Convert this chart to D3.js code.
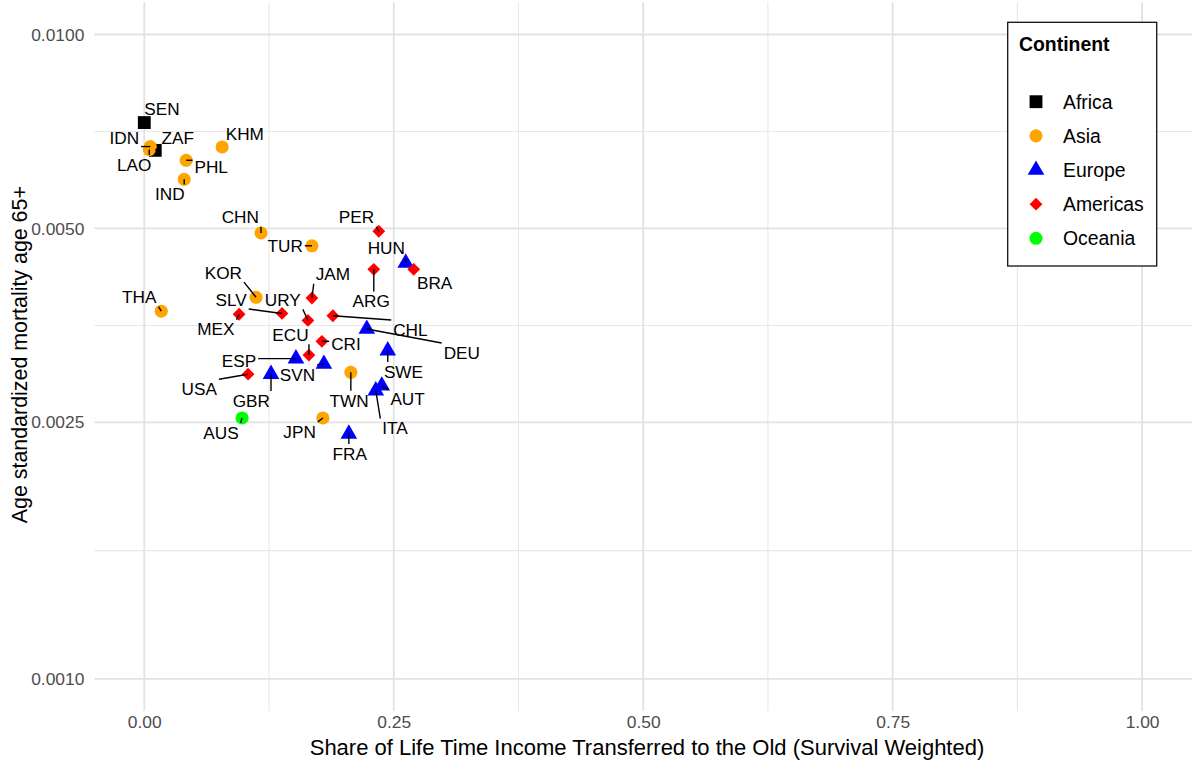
<!DOCTYPE html>
<html>
<head>
<meta charset="utf-8">
<script src="https://cdn.jsdelivr.net/npm/d3@7"></script>
<style>
  html, body { margin: 0; padding: 0; background: #ffffff; }
  svg { display: block; font-family: "Liberation Sans", Arial, Helvetica, sans-serif; }
</style>
</head>
<body>
<svg id="chart" width="1192" height="767"></svg>
<script>
// Country codes, continent, share of lifetime income transferred to the old,
// and age-standardized mortality (65+).
const countries = ["SEN","ZAF","IDN","LAO","KHM","PHL","IND","CHN","TUR","PER",
  "HUN","BRA","ARG","JAM","KOR","THA","SLV","URY","MEX","CHL",
  "DEU","CRI","ECU","ESP","SVN","SWE","USA","GBR","TWN","AUT",
  "ITA","AUS","JPN","FRA"];
const continentOf = ["Africa","Africa","Asia","Asia","Asia","Asia","Asia","Asia","Asia","Americas",
  "Europe","Americas","Americas","Americas","Asia","Asia","Americas","Americas","Americas","Americas",
  "Europe","Americas","Americas","Europe","Europe","Europe","Americas","Europe","Asia","Europe",
  "Europe","Oceania","Asia","Europe"];
const shareOld = [0.000,0.011,0.006,0.005,0.078,0.042,0.040,0.117,0.168,0.235,
  0.262,0.270,0.230,0.168,0.112,0.017,0.138,0.164,0.095,0.189,
  0.223,0.178,0.165,0.152,0.180,0.244,0.104,0.127,0.207,0.238,
  0.232,0.098,0.179,0.205];
const mortality = [0.00730,0.00661,0.00670,0.00663,0.00669,0.00638,0.00596,0.00492,0.00470,0.00495,
  0.00442,0.00432,0.00432,0.00390,0.00391,0.00372,0.00369,0.00360,0.00368,0.00366,
  0.00349,0.00334,0.00318,0.00314,0.00308,0.00323,0.00297,0.00297,0.00299,0.00285,
  0.00280,0.00254,0.00254,0.00240];

const continentNames = ["Africa","Asia","Europe","Americas","Oceania"];
const continentColors = ["#000000","#FFA500","#0000FF","#FF0000","#00FF00"];
const continentShapes = ["square","circle","triangle","diamond","circle"];

const xBreaks = [0, 0.25, 0.5, 0.75, 1];
const xTickLabels = ["0.00","0.25","0.50","0.75","1.00"];
const yBreaks = [0.001, 0.0025, 0.005, 0.01];
const yTickLabels = ["0.0010","0.0025","0.0050","0.0100"];

const xTitle = "Share of Life Time Income Transferred to the Old (Survival Weighted)";
const yTitle = "Age standardized mortality age 65+";
const legendTitle = "Continent";

// Label placement (pixel offsets of each label from its point)
const labelOffsets = {
  SEN:[17.7,-13.3], ZAF:[22.5,-12.5], IDN:[-26,-9], LAO:[-15,15], KHM:[22.7,-12.7],
  PHL:[25,6.7], IND:[-14.3,14.7], CHN:[-20.7,-15.7], TUR:[-26.7,0.3], PER:[-22.3,-14],
  HUN:[-19.4,-14.8], BRA:[20.9,13.4], ARG:[-2.6,31.7], JAM:[21,-23.7], KOR:[-32.7,-24.6],
  THA:[-22,-14], SLV:[-50.9,-14], URY:[-25.1,-20.7], MEX:[-23.2,15], CHL:[77.5,13.7],
  DEU:[95,23.4], CRI:[24.1,2.3], ECU:[-18.5,-20.3], ESP:[-57,2.4], SVN:[-26.5,10.4],
  SWE:[15.7,20.8], USA:[-48.8,14.5], GBR:[-19.7,26.4], TWN:[-1.8,28], AUT:[25.8,13.4],
  ITA:[19.3,37.4], AUS:[-21.1,14.4], JPN:[-23.3,13.4], FRA:[0.9,19.7]
};

const data = countries.map((c, i) => ({
  code: c, continent: continentOf[i], x: shareOld[i], y: mortality[i]
}));

const svg = d3.select("#chart");
const panel = { left: 94.4, right: 1192, top: 2.3, bottom: 711 };

// scales with 5% expansion (log space for y)
const xLim = [0, 1];
const xPad = (xLim[1] - xLim[0]) * 0.05;
const x = d3.scaleLinear().domain([xLim[0] - xPad, xLim[1] + xPad]).range([panel.left, panel.right]);
const yLim = [0.001, 0.01];
const lp = (Math.log10(yLim[1]) - Math.log10(yLim[0])) * 0.05;
const y = d3.scaleLog()
  .domain([Math.pow(10, Math.log10(yLim[0]) - lp), Math.pow(10, Math.log10(yLim[1]) + lp)])
  .range([panel.bottom, panel.top]);

const colorScale = d3.scaleOrdinal().domain(continentNames).range(continentColors);
const shapeScale = d3.scaleOrdinal().domain(continentNames).range(continentShapes);

// minor breaks: midpoints between major breaks (in transformed space)
const xMinor = d3.range(xBreaks.length - 1).map(i => (xBreaks[i] + xBreaks[i + 1]) / 2);
const yMinor = d3.range(yBreaks.length - 1).map(i => Math.sqrt(yBreaks[i] * yBreaks[i + 1]));

const grid = svg.append("g");
grid.selectAll(".xmin").data(xMinor).join("line")
  .attr("x1", d => x(d)).attr("x2", d => x(d))
  .attr("y1", panel.top).attr("y2", panel.bottom)
  .attr("stroke", "#e8e8e8").attr("stroke-width", 1.1);
grid.selectAll(".ymin").data(yMinor).join("line")
  .attr("y1", d => y(d)).attr("y2", d => y(d))
  .attr("x1", panel.left).attr("x2", panel.right)
  .attr("stroke", "#e8e8e8").attr("stroke-width", 1.1);
grid.selectAll(".xmaj").data(xBreaks).join("line")
  .attr("x1", d => x(d)).attr("x2", d => x(d))
  .attr("y1", panel.top).attr("y2", panel.bottom)
  .attr("stroke", "#e2e2e2").attr("stroke-width", 1.8);
grid.selectAll(".ymaj").data(yBreaks).join("line")
  .attr("y1", d => y(d)).attr("y2", d => y(d))
  .attr("x1", panel.left).attr("x2", panel.right)
  .attr("stroke", "#e2e2e2").attr("stroke-width", 1.8);

// axes (labels only, no lines or ticks)
const xAxis = svg.append("g").attr("transform", `translate(0,${panel.bottom})`)
  .call(d3.axisBottom(x).tickValues(xBreaks).tickFormat((d, i) => xTickLabels[i]).tickSize(0).tickPadding(5));
const yAxis = svg.append("g").attr("transform", `translate(${panel.left},0)`)
  .call(d3.axisLeft(y).tickValues(yBreaks).tickFormat((d, i) => yTickLabels[i]).tickSize(0).tickPadding(10));
[xAxis, yAxis].forEach(a => {
  a.select(".domain").remove();
  a.selectAll("text").attr("fill", "#4d4d4d").attr("font-size", "17.4px")
    .attr("font-family", "Liberation Sans, Arial, sans-serif");
});

svg.append("text").attr("x", 647).attr("y", 755)
  .attr("text-anchor", "middle").attr("font-size", "22px").attr("fill", "#000").text(xTitle);
svg.append("text").attr("transform", `translate(26.5,${(panel.top + panel.bottom) / 2 - 2}) rotate(-90)`)
  .attr("text-anchor", "middle").attr("font-size", "21.4px").attr("fill", "#000").text(yTitle);

// marker path generator
function markerPath(shape) {
  if (shape === "square") return d3.symbol(d3.symbolSquare, 165)();
  if (shape === "circle") return d3.symbol(d3.symbolCircle, 135)();
  if (shape === "triangle") return d3.symbol(d3.symbolTriangle, 120)();
  // diamond: square rotated 45 degrees
  const h = 6.4;
  return `M0,${-h}L${h},0L0,${h}L${-h},0Z`;
}

const pts = svg.append("g");
pts.selectAll("path").data(data).join("path")
  .attr("transform", d => `translate(${x(d.x)},${y(d.y)})`)
  .attr("d", d => markerPath(shapeScale(d.continent)))
  .attr("fill", d => colorScale(d.continent));

// labels with leader segments
const segG = svg.append("g");
const labG = svg.append("g");
data.forEach(d => {
  const px = x(d.x), py = y(d.y);
  const off = labelOffsets[d.code];
  const lx = px + off[0], ly = py + off[1];
  const t = labG.append("text").attr("x", lx).attr("y", ly).attr("dy", "0.36em")
    .attr("text-anchor", "middle").attr("font-size", "17.2px").attr("fill", "#000").text(d.code);
  const w = t.node().getComputedTextLength();
  const hw = w / 2 + 2, hh = 9.5;
  const cx = Math.max(lx - hw, Math.min(px, lx + hw));
  const cy = Math.max(ly - hh, Math.min(py, ly + hh));
  const len = Math.hypot(cx - px, cy - py);
  if (len > 5) {
    segG.append("line").attr("x1", px).attr("y1", py).attr("x2", cx).attr("y2", cy)
      .attr("stroke", "#000").attr("stroke-width", 1.4);
  }
});

// legend
const lg = svg.append("g");
lg.append("rect").attr("x", 1007.7).attr("y", 22.3).attr("width", 149).attr("height", 243.7)
  .attr("fill", "#fff").attr("stroke", "#111").attr("stroke-width", 1.3);
lg.append("text").attr("x", 1019).attr("y", 44).attr("dy", "0.36em")
  .attr("font-size", "19.4px").attr("font-weight", "bold").text(legendTitle);
const legY = d3.scalePoint().domain(continentNames).range([101.7, 238.3]);
continentNames.forEach(name => {
  lg.append("path").attr("transform", `translate(1036,${legY(name)})`)
    .attr("d", markerPath(shapeScale(name))).attr("fill", colorScale(name));
  lg.append("text").attr("x", 1063).attr("y", legY(name)).attr("dy", "0.36em")
    .attr("font-size", "19.4px").text(name);
});
</script>
</body>
</html>
